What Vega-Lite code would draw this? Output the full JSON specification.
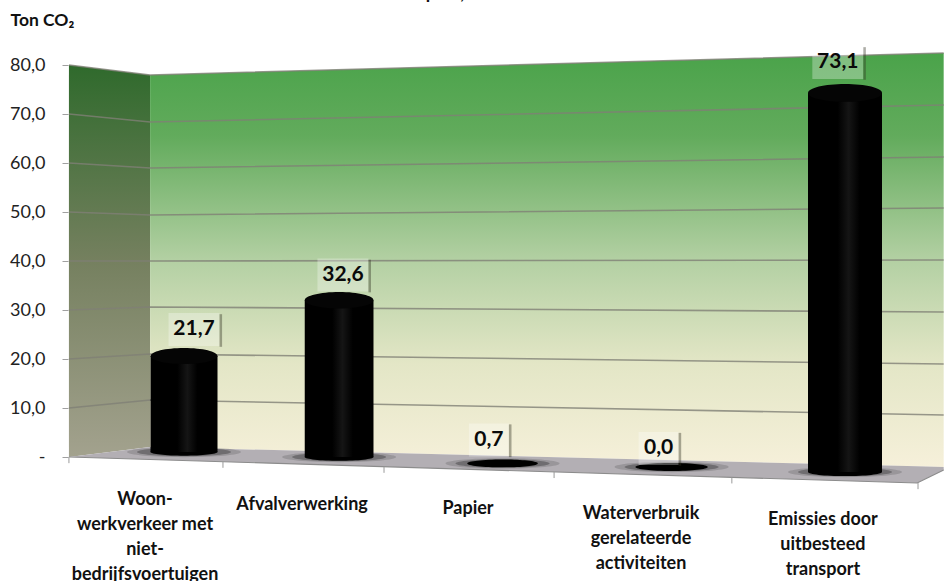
{"$schema":"https://vega.github.io/schema/vega-lite/v6.json","width":944,"height":581,"autosize":"none","padding":0,"background":"white","config":{"view":{"stroke":null},"font":"Lato","scale":{"continuousPadding":0}},
"datasets":{
"levels":[{"level":0},{"level":10},{"level":20},{"level":30},{"level":40},{"level":50},{"level":60},{"level":70},{"level":80}],
"side":[{"slot":0.18,"top":78.56,"bottom":1.95},{"slot":0.77,"top":76.61,"bottom":3.91}],
"back":[{"slot":0.77,"top":76.61,"bottom":3.91},{"slot":5.56,"top":80.91,"bottom":0}],
"floor":[{"slot":0.18,"top":1.95,"bottom":1.95},{"slot":0.77,"top":3.91,"bottom":1.47},{"slot":5.41,"top":0.14,"bottom":-3.13},{"slot":5.56,"top":0,"bottom":-0.59}],
"front":[{"slot":0.18,"h":1.95},{"slot":5.41,"h":-3.13},{"slot":5.56,"h":-0.59}],
"ticks":[{"slot":0.18,"h":1.95,"end":0.75},{"slot":1.258,"h":1.04,"end":-0.16},{"slot":2.279,"h":0.06,"end":-1.14},{"slot":3.308,"h":-0.96,"end":-2.16},{"slot":4.35,"h":-2.01,"end":-3.21},{"slot":5.415,"h":-3.13,"end":-4.33}],
"grid":[
{"level":10,"slot":0.18,"h":11.53},{"level":10,"slot":0.77,"h":13.09},{"level":10,"slot":5.56,"h":10.16},
{"level":20,"slot":0.18,"h":21.11},{"level":20,"slot":0.77,"h":22.08},{"level":20,"slot":5.56,"h":20.13},
{"level":30,"slot":0.18,"h":30.68},{"level":30,"slot":0.77,"h":31.27},{"level":30,"slot":5.56,"h":30.29},
{"level":40,"slot":0.18,"h":40.26},{"level":40,"slot":0.77,"h":40.26},{"level":40,"slot":5.56,"h":40.45},
{"level":50,"slot":0.18,"h":49.83},{"level":50,"slot":0.77,"h":49.25},{"level":50,"slot":5.56,"h":50.62},
{"level":60,"slot":0.18,"h":59.41},{"level":60,"slot":0.77,"h":58.43},{"level":60,"slot":5.56,"h":60.58},
{"level":70,"slot":0.18,"h":68.99},{"level":70,"slot":0.77,"h":67.42},{"level":70,"slot":5.56,"h":70.74},
{"level":80,"slot":0.18,"h":78.56},{"level":80,"slot":0.77,"h":76.61},{"level":80,"slot":5.56,"h":80.91}],
"bars":[
{"categorie":"Woon-\nwerkverkeer met\nniet-\nbedrijfsvoertuigen","rank":1,"value":21.7,"base":2.93,"label":"21,7","labelSlot":1.067,"labelH":26.87,"textSlot":0.735,"textH":-4.69},
{"categorie":"Afvalverwerking","rank":2,"value":32.6,"base":1.95,"label":"32,6","labelSlot":2.024,"labelH":37.52,"textSlot":1.767,"textH":-5.67},
{"categorie":"Papier","rank":3,"value":0.7,"base":0.7,"label":"0,7","labelSlot":2.918,"labelH":5.28,"textSlot":2.792,"textH":-6.45},
{"categorie":"Waterverbruik\ngerelateerde\nactiviteiten","rank":4,"value":0.0,"base":0.0,"label":"0,0","labelSlot":3.924,"labelH":3.62,"textSlot":3.821,"textH":-7.43},
{"categorie":"Emissies door\nuitbesteed\ntransport","rank":5,"value":73.1,"base":-0.98,"label":"73,1","labelSlot":4.959,"labelH":79.05,"textSlot":4.874,"textH":-8.6}],
"heading":[{"text":"Scope 3, 2013","slot":2.359,"h":91.46}]
},
"layer":[
{"data":{"name":"levels"},"mark":{"type":"point","opacity":0},"encoding":{"y":{"field":"level","type":"quantitative","scale":{"domain":[0,80],"range":[457,65],"nice":false,"zero":false},"axis":{"values":[0,10,20,30,40,50,60,70,80],"offset":-68,"domain":false,"grid":false,"tickSize":6,"tickColor":"#a0a0a0","labelPadding":17,"labelFont":"Lato","labelFontSize":18,"labelColor":"#222222","labelExpr":"datum.value===0?'-\u00a0\u00a0':replace(format(datum.value,'.1f'),'.',',')","title":"Ton CO₂","titleAngle":0,"titleAlign":"left","titleBaseline":"alphabetic","titleX":-58,"titleY":25,"titleFont":"Lato","titleFontSize":17.5,"titleFontWeight":"bold","titleColor":"#111111"}}}},
{"resolve":{"scale":{"size":"independent"}},"layer":[
{"data":{"name":"side"},"mark":{"type":"area","color":{"gradient":"linear","x1":0,"y1":0,"x2":0,"y2":1,"stops":[{"offset":0,"color":"#2f6a2c"},{"offset":0.5,"color":"#75805f"},{"offset":1,"color":"#a3a28e"}]}},"encoding":{"x":{"field":"slot","type":"quantitative","axis":null,"scale":{"type":"pow","exponent":1.1,"domain":[1,5],"range":[184,845],"nice":false,"zero":false}},"y":{"field":"top","type":"quantitative","axis":null,"scale":{"domain":[0,80],"range":[467,57.6],"nice":false,"zero":false}},"y2":{"field":"bottom"}}},
{"data":{"name":"back"},"mark":{"type":"area","color":{"gradient":"linear","x1":0,"y1":0,"x2":0,"y2":1,"stops":[{"offset":0,"color":"#4aa34a"},{"offset":0.2,"color":"#62ab5c"},{"offset":0.5,"color":"#b3d0a3"},{"offset":0.75,"color":"#e3e6c6"},{"offset":1,"color":"#f6f0da"}]}},"encoding":{"x":{"field":"slot","type":"quantitative","axis":null,"scale":{"type":"pow","exponent":1.1,"domain":[1,5],"range":[184,845],"nice":false,"zero":false}},"y":{"field":"top","type":"quantitative","axis":null,"scale":{"domain":[0,80],"range":[467,57.6],"nice":false,"zero":false}},"y2":{"field":"bottom"}}},
{"data":{"name":"floor"},"mark":{"type":"area","color":"#b3afb4"},"encoding":{"x":{"field":"slot","type":"quantitative","axis":null,"scale":{"type":"pow","exponent":1.1,"domain":[1,5],"range":[184,845],"nice":false,"zero":false}},"y":{"field":"top","type":"quantitative","axis":null,"scale":{"domain":[0,80],"range":[467,57.6],"nice":false,"zero":false}},"y2":{"field":"bottom"}}},
{"data":{"name":"grid"},"mark":{"type":"line","color":"#7f7f76","strokeWidth":1.6,"opacity":0.8},"encoding":{"x":{"field":"slot","type":"quantitative","axis":null,"scale":{"type":"pow","exponent":1.1,"domain":[1,5],"range":[184,845],"nice":false,"zero":false}},"y":{"field":"h","type":"quantitative","axis":null,"scale":{"domain":[0,80],"range":[467,57.6],"nice":false,"zero":false}},"detail":{"field":"level","type":"nominal"}}},
{"data":{"name":"front"},"mark":{"type":"line","color":"#8c8c8c","strokeWidth":1.2},"encoding":{"x":{"field":"slot","type":"quantitative","axis":null,"scale":{"type":"pow","exponent":1.1,"domain":[1,5],"range":[184,845],"nice":false,"zero":false}},"y":{"field":"h","type":"quantitative","axis":null,"scale":{"domain":[0,80],"range":[467,57.6],"nice":false,"zero":false}}}},
{"data":{"name":"ticks"},"mark":{"type":"rule","color":"#9a9a9a","strokeWidth":1},"encoding":{"x":{"field":"slot","type":"quantitative","axis":null,"scale":{"type":"pow","exponent":1.1,"domain":[1,5],"range":[184,845],"nice":false,"zero":false}},"y":{"field":"h","type":"quantitative","axis":null,"scale":{"domain":[0,80],"range":[467,57.6],"nice":false,"zero":false}},"y2":{"field":"end"}}},
{"data":{"name":"bars"},"mark":{"type":"point","filled":true,"color":"#333333","opacity":0.2,"strokeWidth":0,"size":12996,"shape":"M-1,0C-1,-0.0497,-0.5523,-0.09,0,-0.09C0.5523,-0.09,1,-0.0497,1,0C1,0.0497,0.5523,0.09,0,0.09C-0.5523,0.09,-1,0.0497,-1,0Z"},"encoding":{"x":{"field":"rank","type":"quantitative","axis":null,"scale":{"type":"pow","exponent":1.1,"domain":[1,5],"range":[184,845],"nice":false,"zero":false}},"y":{"field":"base","type":"quantitative","axis":null,"scale":{"domain":[0,80],"range":[467,57.6],"nice":false,"zero":false}}}},
{"data":{"name":"bars"},"mark":{"type":"point","filled":true,"color":"#222222","opacity":0.35,"strokeWidth":0,"size":8836,"shape":"M-1,0C-1,-0.0497,-0.5523,-0.09,0,-0.09C0.5523,-0.09,1,-0.0497,1,0C1,0.0497,0.5523,0.09,0,0.09C-0.5523,0.09,-1,0.0497,-1,0Z"},"encoding":{"x":{"field":"rank","type":"quantitative","axis":null,"scale":{"type":"pow","exponent":1.1,"domain":[1,5],"range":[184,845],"nice":false,"zero":false}},"y":{"field":"base","type":"quantitative","axis":null,"scale":{"domain":[0,80],"range":[467,57.6],"nice":false,"zero":false}}}},
{"data":{"name":"bars"},"mark":{"type":"point","filled":true,"color":"#000000","opacity":1,"strokeWidth":0,"shape":"M-1,0C-1,-0.0608,-0.5523,-0.11,0,-0.11C0.5523,-0.11,1,-0.0608,1,0C1,0.0608,0.5523,0.11,0,0.11C-0.5523,0.11,-1,0.0608,-1,0Z"},"encoding":{"x":{"field":"rank","type":"quantitative","axis":null,"scale":{"type":"pow","exponent":1.1,"domain":[1,5],"range":[184,845],"nice":false,"zero":false}},"y":{"field":"base","type":"quantitative","axis":null,"scale":{"domain":[0,80],"range":[467,57.6],"nice":false,"zero":false}},"size":{"field":"rank","type":"quantitative","legend":null,"scale":{"domain":[1,5],"range":[4489,5476],"zero":false,"nice":false}}}},
{"data":{"name":"bars"},"transform":[{"filter":"datum.value>1"}],"mark":{"type":"bar","color":{"gradient":"linear","x1":0,"y1":0,"x2":1,"y2":0,"stops":[{"offset":0,"color":"#000000"},{"offset":0.4,"color":"#000000"},{"offset":0.55,"color":"#151515"},{"offset":0.7,"color":"#000000"},{"offset":1,"color":"#000000"}]}},"encoding":{"x":{"field":"rank","type":"quantitative","axis":null,"scale":{"type":"pow","exponent":1.1,"domain":[1,5],"range":[184,845],"nice":false,"zero":false,"padding":0}},"y":{"field":"value","type":"quantitative","axis":null,"scale":{"domain":[0,80],"range":[467,57.6],"nice":false,"zero":false}},"y2":{"field":"base"},"size":{"field":"rank","type":"quantitative","legend":null,"scale":{"domain":[1,5],"range":[67,74],"zero":false,"nice":false}}}},
{"data":{"name":"bars"},"transform":[{"filter":"datum.value>1"}],"mark":{"type":"point","filled":true,"color":"#050505","opacity":1,"strokeWidth":0,"shape":"M-1,0C-1,-0.1326,-0.5523,-0.24,0,-0.24C0.5523,-0.24,1,-0.1326,1,0C1,0.1326,0.5523,0.24,0,0.24C-0.5523,0.24,-1,0.1326,-1,0Z"},"encoding":{"x":{"field":"rank","type":"quantitative","axis":null,"scale":{"type":"pow","exponent":1.1,"domain":[1,5],"range":[184,845],"nice":false,"zero":false}},"y":{"field":"value","type":"quantitative","axis":null,"scale":{"domain":[0,80],"range":[467,57.6],"nice":false,"zero":false}},"size":{"field":"rank","type":"quantitative","legend":null,"scale":{"domain":[1,5],"range":[4489,5476],"zero":false,"nice":false}}}},
{"data":{"name":"bars"},"transform":[{"filter":"datum.value>1"}],"mark":{"type":"point","filled":true,"color":"#ffffff","opacity":0.3,"strokeWidth":0,"size":2601,"shape":"M-1,-0.647L1,-0.647L1,0.647L-1,0.647Z"},"encoding":{"x":{"field":"labelSlot","type":"quantitative","axis":null,"scale":{"type":"pow","exponent":1.1,"domain":[1,5],"range":[184,845],"nice":false,"zero":false}},"y":{"field":"labelH","type":"quantitative","axis":null,"scale":{"domain":[0,80],"range":[467,57.6],"nice":false,"zero":false}}}},
{"data":{"name":"bars"},"transform":[{"filter":"datum.value>1"}],"mark":{"type":"point","filled":true,"color":"#333322","opacity":0.4,"strokeWidth":0,"size":2601,"shape":"M1,-0.6L1.1,-0.6L1.1,0.68L1,0.68Z"},"encoding":{"x":{"field":"labelSlot","type":"quantitative","axis":null,"scale":{"type":"pow","exponent":1.1,"domain":[1,5],"range":[184,845],"nice":false,"zero":false}},"y":{"field":"labelH","type":"quantitative","axis":null,"scale":{"domain":[0,80],"range":[467,57.6],"nice":false,"zero":false}}}},
{"data":{"name":"bars"},"transform":[{"filter":"datum.value<=1"}],"mark":{"type":"point","filled":true,"color":"#ffffff","opacity":0.3,"strokeWidth":0,"size":1600,"shape":"M-1,-0.825L1,-0.825L1,0.825L-1,0.825Z"},"encoding":{"x":{"field":"labelSlot","type":"quantitative","axis":null,"scale":{"type":"pow","exponent":1.1,"domain":[1,5],"range":[184,845],"nice":false,"zero":false}},"y":{"field":"labelH","type":"quantitative","axis":null,"scale":{"domain":[0,80],"range":[467,57.6],"nice":false,"zero":false}}}},
{"data":{"name":"bars"},"transform":[{"filter":"datum.value<=1"}],"mark":{"type":"point","filled":true,"color":"#333322","opacity":0.4,"strokeWidth":0,"size":1600,"shape":"M1,-0.78L1.13,-0.78L1.13,0.86L1,0.86Z"},"encoding":{"x":{"field":"labelSlot","type":"quantitative","axis":null,"scale":{"type":"pow","exponent":1.1,"domain":[1,5],"range":[184,845],"nice":false,"zero":false}},"y":{"field":"labelH","type":"quantitative","axis":null,"scale":{"domain":[0,80],"range":[467,57.6],"nice":false,"zero":false}}}},
{"data":{"name":"bars"},"mark":{"type":"text","font":"Lato","fontSize":21,"fontWeight":"bold","color":"#0a0a0a","align":"center","baseline":"middle"},"encoding":{"x":{"field":"labelSlot","type":"quantitative","axis":null,"scale":{"type":"pow","exponent":1.1,"domain":[1,5],"range":[184,845],"nice":false,"zero":false}},"y":{"field":"labelH","type":"quantitative","axis":null,"scale":{"domain":[0,80],"range":[467,57.6],"nice":false,"zero":false}},"text":{"field":"label"}}},
{"data":{"name":"bars"},"mark":{"type":"text","font":"Lato","fontSize":18,"fontWeight":"bold","color":"#111111","align":"center","baseline":"top","lineBreak":"\n","lineHeight":25},"encoding":{"x":{"field":"textSlot","type":"quantitative","axis":null,"scale":{"type":"pow","exponent":1.1,"domain":[1,5],"range":[184,845],"nice":false,"zero":false}},"y":{"field":"textH","type":"quantitative","axis":null,"scale":{"domain":[0,80],"range":[467,57.6],"nice":false,"zero":false}},"text":{"field":"categorie"}}},
{"data":{"name":"heading"},"mark":{"type":"text","font":"Lato","fontSize":18,"fontWeight":"bold","color":"#111111","align":"left","baseline":"alphabetic"},"encoding":{"x":{"field":"slot","type":"quantitative","axis":null,"scale":{"type":"pow","exponent":1.1,"domain":[1,5],"range":[184,845],"nice":false,"zero":false}},"y":{"field":"h","type":"quantitative","axis":null,"scale":{"domain":[0,80],"range":[467,57.6],"nice":false,"zero":false}},"text":{"field":"text"}}}
]}
],
"resolve":{"scale":{"y":"independent"}}
}
